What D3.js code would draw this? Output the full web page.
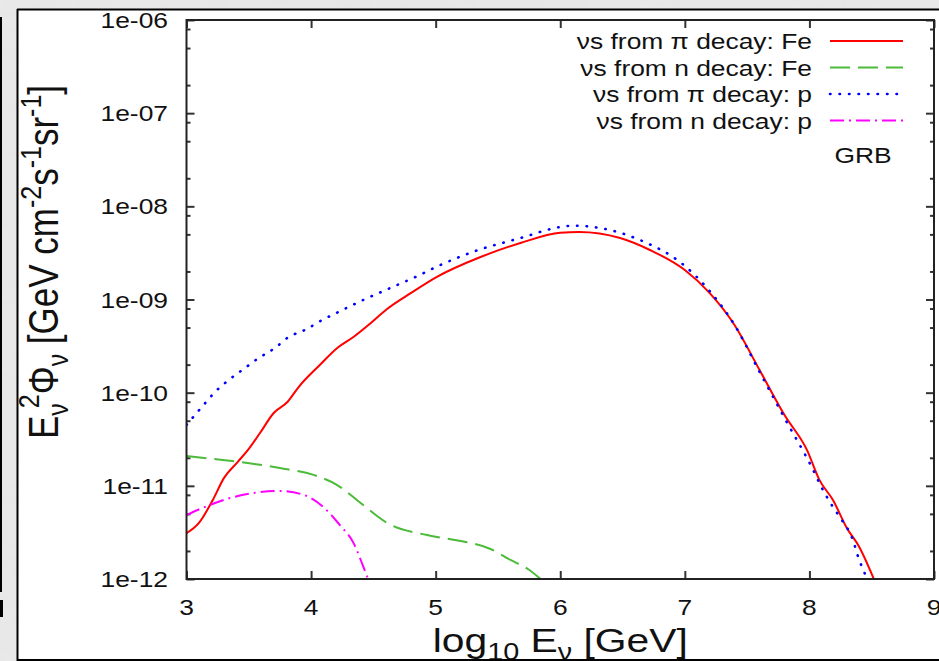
<!DOCTYPE html>
<html>
<head>
<meta charset="utf-8">
<script src="https://cdn.jsdelivr.net/npm/d3@7"></script>
<style>
  body { margin: 0; background: #e4e4e4; }
  svg { display: block; }
  text { font-family: "Liberation Sans", Arial, sans-serif; fill: #111; }
</style>
</head>
<body>
<script>
// x axis: log10 of neutrino energy in GeV, y axis: E^2 * flux
const xTicks = [3, 4, 5, 6, 7, 8, 9];
const yTicks = [1e-12, 1e-11, 1e-10, 1e-9, 1e-8, 1e-7, 1e-6];
const yTickLabels = ["1e-12", "1e-11", "1e-10", "1e-09", "1e-08", "1e-07", "1e-06"];
const minorFactors = [2, 5, 8];

const legendLabels = ["\u03BDs from \u03C0 decay: Fe", "\u03BDs from n decay: Fe", "\u03BDs from \u03C0 decay: p", "\u03BDs from n decay: p"];

// nus from pi decay, Fe
const piFeX = [3.00, 3.10, 3.21, 3.30, 3.41, 3.50, 3.59, 3.70, 3.81, 3.90, 4.07, 4.21, 4.34, 4.48, 4.61, 4.80, 5.01, 5.36, 5.68, 6.00, 6.15, 6.48, 6.72, 7.00, 7.20, 7.40, 7.60, 7.80, 7.98, 8.08, 8.19, 8.30, 8.40, 8.52];
const piFeY = [3.1e-12, 4.0e-12, 7.0e-12, 1.21e-11, 1.80e-11, 2.49e-11, 3.69e-11, 6.05e-11, 7.94e-11, 1.15e-10, 1.98e-10, 3.02e-10, 3.96e-10, 5.6e-10, 7.9e-10, 1.17e-9, 1.75e-9, 2.86e-9, 4.04e-9, 5.2e-9, 5.3e-9, 4.57e-9, 3.40e-9, 2.07e-9, 1.17e-9, 5.3e-10, 1.75e-10, 5.75e-11, 2.43e-11, 1.16e-11, 7.0e-12, 3.53e-12, 2.21e-12, 9.8e-13];

// nus from n decay, Fe
const nFeX = [3.00, 3.22, 3.49, 3.75, 4.02, 4.21, 4.40, 4.61, 4.93, 5.20, 5.44, 5.60, 5.74, 5.85];
const nFeY = [2.09e-11, 1.94e-11, 1.76e-11, 1.55e-11, 1.31e-11, 1.02e-11, 6.5e-12, 4.0e-12, 2.96e-12, 2.56e-12, 2.10e-12, 1.60e-12, 1.28e-12, 9.8e-13];

// nus from pi decay, p
const piPX = [3.00, 3.13, 3.23, 3.34, 3.46, 3.58, 3.71, 3.82, 3.95, 4.09, 4.22, 4.42, 4.62, 4.84, 5.04, 5.32, 5.68, 6.00, 6.10, 6.32, 6.64, 7.00, 7.20, 7.40, 7.60, 7.80, 8.03, 8.10, 8.18, 8.26, 8.34, 8.40, 8.46];
const piPY = [4.5e-11, 7.2e-11, 1.02e-10, 1.37e-10, 1.80e-10, 2.36e-10, 3.02e-10, 3.96e-10, 4.71e-10, 6.03e-10, 7.35e-10, 9.9e-10, 1.30e-9, 1.75e-9, 2.35e-9, 3.32e-9, 4.57e-9, 6.0e-9, 6.2e-9, 5.85e-9, 4.35e-9, 2.29e-9, 1.23e-9, 5.3e-10, 1.67e-10, 5.35e-11, 1.48e-11, 9.5e-12, 6.2e-12, 4.3e-12, 2.82e-12, 1.60e-12, 1.03e-12];

// nus from n decay, p
const nPX = [3.00, 3.17, 3.35, 3.54, 3.75, 3.94, 4.10, 4.23, 4.34, 4.42, 4.46];
const nPY = [4.86e-12, 6.1e-12, 7.4e-12, 8.4e-12, 8.8e-12, 8.0e-12, 5.9e-12, 3.8e-12, 2.44e-12, 1.35e-12, 9.8e-13];

const W = 939, H = 661;
const pLeft = 186.5, pRight = 934, pTop = 20, pBottom = 579;
const sx = 1.2; // the picture is stretched horizontally

const svg = d3.select('body').append('svg')
    .attr('width', W)
    .attr('height', H);

// grey marble-ish background
const defs = svg.append('defs');
const f = defs.append('filter').attr('id', 'marble').attr('x', 0).attr('y', 0).attr('width', '100%').attr('height', '100%');
f.append('feTurbulence').attr('type', 'fractalNoise').attr('baseFrequency', '0.05 0.08').attr('numOctaves', 3).attr('seed', 4);
f.append('feColorMatrix').attr('type', 'matrix')
    .attr('values', '0 0 0 0 0.87  0 0 0 0 0.87  0 0 0 0 0.87  0.35 0 0 0 0');
svg.append('rect').attr('width', W).attr('height', H).attr('fill', '#e6e6e6');
svg.append('rect').attr('width', W).attr('height', H).attr('filter', 'url(#marble)');

svg.append('rect').attr('x', 0).attr('y', 17).attr('width', 2).attr('height', 575).attr('fill', '#000');
svg.append('rect').attr('x', 0).attr('y', 600).attr('width', 3).attr('height', 17).attr('fill', '#000');

// white panel
defs.append('clipPath').attr('id', 'panelClip')
  .append('rect').attr('x', 17).attr('y', 9).attr('width', W - 17).attr('height', 651);
defs.append('clipPath').attr('id', 'plotClip')
  .append('rect').attr('x', pLeft).attr('y', pTop).attr('width', pRight - pLeft).attr('height', pBottom - pTop);

svg.append('rect').attr('x', 17).attr('y', 9).attr('width', W - 17).attr('height', 651).attr('fill', '#fff');

const panel = svg.append('g').attr('clip-path', 'url(#panelClip)');

const x = d3.scaleLinear().domain([3, 9]).range([pLeft, pRight]);
const y = d3.scaleLog().domain([1e-12, 1e-6]).range([pBottom, pTop]);

const minorTicks = [];
yTicks.slice(0, -1).forEach(t => minorFactors.forEach(k => minorTicks.push(t * k)));

// ticks, pointing inwards on all four sides
const tickStyle = g => {
  g.select('.domain').remove();
  g.selectAll('.tick line').attr('stroke', '#333').attr('stroke-width', 2);
  g.selectAll('.tick text').remove();
};
panel.append('g').attr('transform', `translate(0,${pBottom})`)
    .call(d3.axisBottom(x).tickValues(xTicks).tickSize(-8)).call(tickStyle);
panel.append('g').attr('transform', `translate(0,${pTop})`)
    .call(d3.axisTop(x).tickValues(xTicks).tickSize(-8)).call(tickStyle);
panel.append('g').attr('transform', `translate(${pLeft},0)`)
    .call(d3.axisLeft(y).tickValues(yTicks).tickSize(-8)).call(tickStyle);
panel.append('g').attr('transform', `translate(${pRight},0)`)
    .call(d3.axisRight(y).tickValues(yTicks).tickSize(-8)).call(tickStyle);
panel.append('g').attr('transform', `translate(${pLeft},0)`)
    .call(d3.axisLeft(y).tickValues(minorTicks).tickSize(-4)).call(tickStyle);
panel.append('g').attr('transform', `translate(${pRight},0)`)
    .call(d3.axisRight(y).tickValues(minorTicks).tickSize(-4)).call(tickStyle);

// stretched text helper
function sText(g, px, py, anchor, size, str) {
  return g.append('text')
    .attr('transform', `translate(${px},${py}) scale(${sx},1)`)
    .attr('text-anchor', anchor)
    .attr('font-size', size)
    .text(str);
}

yTicks.forEach((t, i) => sText(panel, 168, y(t) + 8, 'end', 22, yTickLabels[i]));
xTicks.forEach(t => sText(panel, x(t), 615, 'middle', 22, String(t)));

// x axis title
const xt = panel.append('text')
    .attr('transform', `translate(${(pLeft + pRight) / 2},652) scale(${sx},1)`)
    .attr('text-anchor', 'middle')
    .attr('font-size', 34);
xt.append('tspan').text('log');
xt.append('tspan').attr('font-size', 24).attr('dy', 8).text('10');
xt.append('tspan').attr('dy', -8).text(' E');
xt.append('tspan').attr('font-size', 24).attr('dy', 8).text('\u03BD');
xt.append('tspan').attr('dy', -8).text(' [GeV]');

// y axis title
const yt = panel.append('text')
    .attr('transform', `translate(58,262) scale(${sx},1) rotate(-90)`)
    .attr('text-anchor', 'middle')
    .attr('font-size', 35);
yt.append('tspan').text('E');
yt.append('tspan').attr('font-size', 25).attr('dy', 8).text('\u03BD');
yt.append('tspan').attr('font-size', 25).attr('dx', -5).attr('dy', -24).text('2');
yt.append('tspan').attr('dy', 16).text('\u03A6');
yt.append('tspan').attr('font-size', 25).attr('dy', 8).text('\u03BD');
yt.append('tspan').attr('dy', -8).text(' [GeV cm');
yt.append('tspan').attr('font-size', 25).attr('dy', -14).text('-2');
yt.append('tspan').attr('dy', 14).text('s');
yt.append('tspan').attr('font-size', 25).attr('dy', -14).text('-1');
yt.append('tspan').attr('dy', 14).text('sr');
yt.append('tspan').attr('font-size', 25).attr('dy', -14).text('-1');
yt.append('tspan').attr('dy', 14).text(']');

// series
const series = [
  { xs: piFeX, ys: piFeY, color: '#ff0000', dash: null, width: 2, cap: 'butt' },
  { xs: nFeX, ys: nFeY, color: '#4cbb3a', dash: '20,8', width: 2, cap: 'butt' },
  { xs: piPX, ys: piPY, color: '#0000ff', dash: '0.5,9', width: 2.6, cap: 'round' },
  { xs: nPX, ys: nPY, color: '#ff00ff', dash: '14,5,2,5', width: 2, cap: 'butt' }
];

const line = d3.line()
    .x(d => x(d[0]))
    .y(d => y(d[1]))
    .curve(d3.curveMonotoneX);

const plot = panel.append('g').attr('clip-path', 'url(#plotClip)');
series.forEach(s => {
  plot.append('path')
    .datum(s.xs.map((v, i) => [v, s.ys[i]]))
    .attr('fill', 'none')
    .attr('stroke', s.color)
    .attr('stroke-width', s.width)
    .attr('stroke-linecap', s.cap)
    .attr('stroke-dasharray', s.dash)
    .attr('d', line);
});

// frame
panel.append('rect')
    .attr('x', pLeft).attr('y', pTop)
    .attr('width', pRight - pLeft).attr('height', pBottom - pTop)
    .attr('fill', 'none').attr('stroke', '#222').attr('stroke-width', 2);

// legend
const legendY = [41, 67.5, 94, 120.5];
series.forEach((s, i) => {
  sText(panel, 812, legendY[i] + 8, 'end', 22, legendLabels[i]);
  panel.append('line')
    .attr('x1', 830).attr('x2', 903)
    .attr('y1', legendY[i]).attr('y2', legendY[i])
    .attr('stroke', s.color).attr('stroke-width', s.width)
    .attr('stroke-linecap', s.cap)
    .attr('stroke-dasharray', s.dash);
});
sText(panel, 863, 163, 'middle', 22, 'GRB');

// panel border
svg.append('line').attr('x1', 17).attr('x2', W).attr('y1', 9.5).attr('y2', 9.5).attr('stroke', '#000').attr('stroke-width', 2);
svg.append('line').attr('x1', 17.5).attr('x2', 17.5).attr('y1', 9).attr('y2', 661).attr('stroke', '#000').attr('stroke-width', 2);
svg.append('line').attr('x1', 17).attr('x2', W).attr('y1', 660).attr('y2', 660).attr('stroke', '#000').attr('stroke-width', 2);
</script>
</body>
</html>
